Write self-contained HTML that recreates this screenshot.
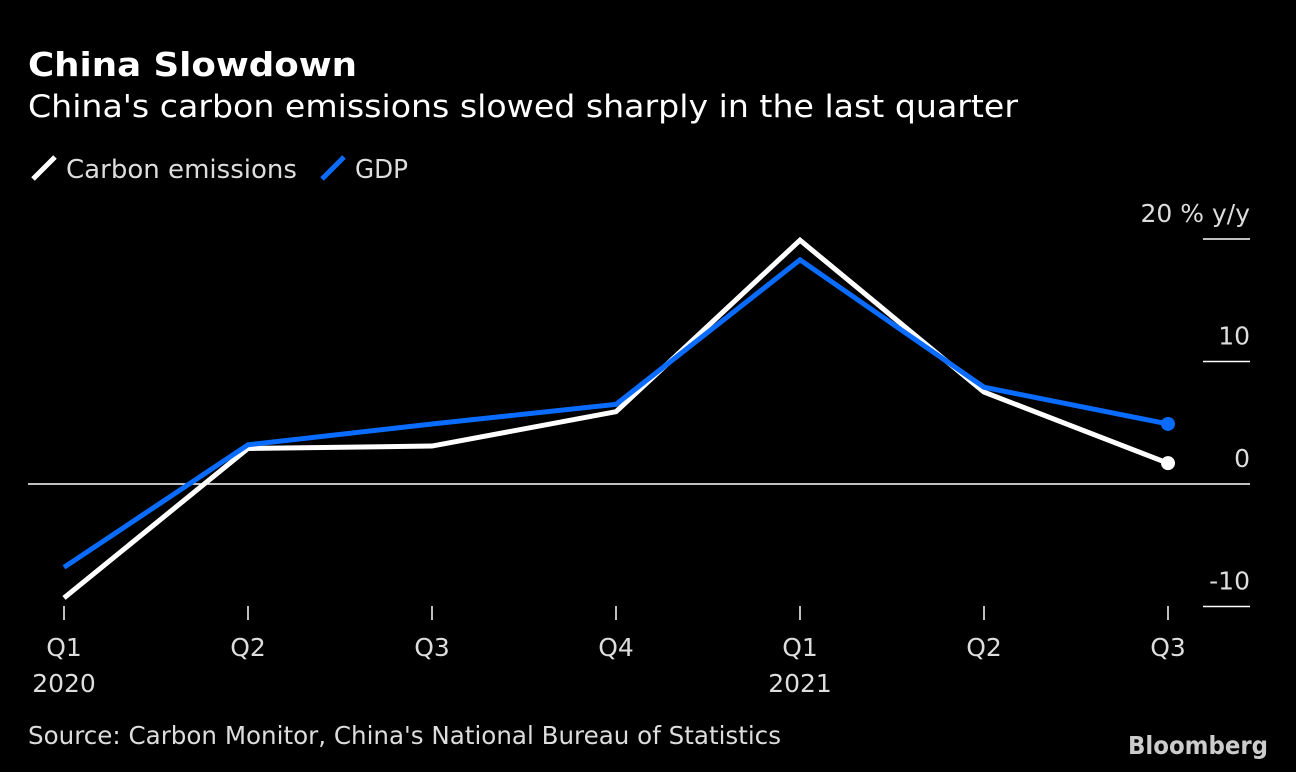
<!DOCTYPE html>
<html><head><meta charset="utf-8"><style>
body{margin:0;background:#000;width:1296px;height:772px;overflow:hidden;font-family:"DejaVu Sans","Liberation Sans",sans-serif;color:#fff}
svg text{font-family:"DejaVu Sans","Liberation Sans",sans-serif}
</style></head><body>
<svg width="1296" height="772" style="position:absolute;left:0;top:0">
<text x="28" y="76" font-size="33" font-weight="bold" fill="#fff" textLength="329" lengthAdjust="spacingAndGlyphs">China Slowdown</text>
<text x="28" y="117" font-size="31" fill="#fff" textLength="990" lengthAdjust="spacingAndGlyphs">China's carbon emissions slowed sharply in the last quarter</text>
<g>
<line x1="33" y1="179" x2="55" y2="157" stroke="#fff" stroke-width="5"/>
<text x="66" y="178" font-size="26" fill="#ddd" textLength="231" lengthAdjust="spacingAndGlyphs">Carbon emissions</text>
<line x1="322" y1="179" x2="344" y2="157" stroke="#0a6cff" stroke-width="5"/>
<text x="355" y="178" font-size="26" fill="#ddd" textLength="53" lengthAdjust="spacingAndGlyphs">GDP</text>
</g>
<g id="plot"></g>
<text x="28" y="744" font-size="25" fill="#ddd" textLength="753" lengthAdjust="spacingAndGlyphs">Source: Carbon Monitor, China's National Bureau of Statistics</text>
<text x="1268" y="754" font-size="25" font-weight="bold" fill="#ccc" text-anchor="end" textLength="140" lengthAdjust="spacingAndGlyphs">Bloomberg</text>
</svg>
<script>
const categories=["Q1","Q2","Q3","Q4","Q1","Q2","Q3"];
const years=["2020","","","","2021","",""];
const carbon=[-9.3,2.9,3.1,5.9,19.9,7.5,1.7];
const gdp=[-6.8,3.2,4.9,6.5,18.3,7.9,4.9];
const yTicks=[20,10,0,-10];
const ns="http://www.w3.org/2000/svg";
const g=document.getElementById('plot');
const x=i=>64+i*(1168-64)/(categories.length-1);
const y=v=>484-v*12.25;
function mk(t,a,p){const e=document.createElementNS(ns,t);for(const k in a)e.setAttribute(k,a[k]);(p||g).appendChild(e);return e;}
yTicks.forEach(v=>{
 if(v===0){const l=mk('line',{x1:28,x2:1250,y1:y(v),y2:y(v),stroke:'#fff','stroke-width':1.5});
 
 }
 else{const l=mk('line',{x1:1203,x2:1250,y1:y(v),y2:y(v),stroke:'#fff','stroke-width':1.5});
 
 }
 const t=mk('text',{x:1250,y:y(v)-17,'font-size':25,fill:'#ddd','text-anchor':'end'});
 t.textContent=v===20?'20 % y/y':String(v);
 
 
});
categories.forEach((c,i)=>{
 const l=mk('line',{x1:x(i),x2:x(i),y1:606,y2:620,stroke:'#fff','stroke-width':1.5});
 
 
 const t=mk('text',{x:x(i),y:656,'font-size':25,fill:'#ddd','text-anchor':'middle'});
 t.textContent=c;
 
 
 if(years[i]){const t2=mk('text',{x:x(i),y:692,'font-size':25,fill:'#ddd','text-anchor':'middle'});
 t2.textContent=years[i];
 
 }
});
function series(d,col,name){
 const p=mk('polyline',{points:d.map((v,i)=>x(i)+','+y(v)).join(' '),fill:'none',stroke:col,'stroke-width':5,'stroke-linejoin':'miter'});
 
 
 const c=mk('circle',{cx:x(d.length-1),cy:y(d[d.length-1]),r:7,fill:col});
 
 
}
series(carbon,'#fff','carbon');
series(gdp,'#0a6cff','gdp');
</script>
</body></html>
